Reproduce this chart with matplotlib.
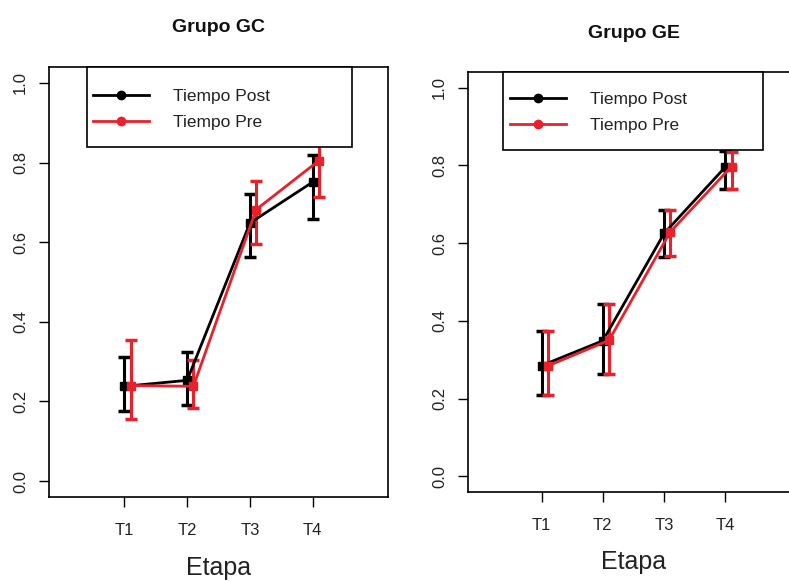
import matplotlib
matplotlib.use("Agg")
from matplotlib import pyplot as plt
from matplotlib.lines import Line2D
from matplotlib.patches import Rectangle

plt.rcParams['font.family'] = ['Liberation Sans', 'DejaVu Sans']

etapas = ["T1", "T2", "T3", "T4"]

# Grupo GC
gc_post = [0.238, 0.253, 0.648, 0.751]
gc_post_lo = [0.176, 0.190, 0.563, 0.659]
gc_post_hi = [0.311, 0.323, 0.722, 0.818]
gc_pre = [0.240, 0.238, 0.682, 0.805]
gc_pre_lo = [0.157, 0.184, 0.595, 0.713]
gc_pre_hi = [0.355, 0.305, 0.753, 0.897]

# Grupo GE
ge_post = [0.285, 0.349, 0.625, 0.796]
ge_post_lo = [0.210, 0.264, 0.565, 0.739]
ge_post_hi = [0.375, 0.444, 0.685, 0.837]
ge_pre = [0.284, 0.350, 0.629, 0.797]
ge_pre_lo = [0.210, 0.264, 0.567, 0.739]
ge_pre_hi = [0.375, 0.444, 0.685, 0.835]

ROJO = "#e8212b"
NEGRO = "#000000"
DODGE = 0.1

fig = plt.figure(figsize=(7.89, 5.82), dpi=100)

#posiciones de los paneles (en pixeles: izquierda, arriba, derecha, abajo)
paneles = [
    dict(px=(49, 67, 388, 497), titulo="Grupo GC", ty=28, ey=568,
         post=(gc_post, gc_post_lo, gc_post_hi), pre=(gc_pre, gc_pre_lo, gc_pre_hi),
         leg=(87, 352, 147), hx=93, hy=96),
    dict(px=(468, 72, 799, 492), titulo="Grupo GE", ty=33, ey=562,
         post=(ge_post, ge_post_lo, ge_post_hi), pre=(ge_pre, ge_pre_lo, ge_pre_hi),
         leg=(503, 763, 150), hx=510, hy=99),
]

W, H = 789, 582
for p in paneles:
    l, t, r, b = p["px"]
    ax = fig.add_axes([l / W, 1 - b / H, (r - l) / W, (b - t) / H])
    x = list(range(1, len(etapas) + 1))

    for (m, lo, hi), col, off in [(p["post"], NEGRO, 0.0), (p["pre"], ROJO, DODGE)]:
        xx = [v + off for v in x]
        err = [[mi - a for mi, a in zip(m, lo)], [c - mi for mi, c in zip(m, hi)]]
        ax.errorbar(xx, m, yerr=err, fmt="none", ecolor=col, elinewidth=2.2,
                    capsize=4.5, capthick=2.5, zorder=2)
        ax.plot(xx, m, color=col, lw=2.0, marker="s", markersize=5.5, zorder=3)

    ax.set_xlim(-0.2, 5.2)
    ax.set_ylim(-0.04, 1.04)
    ax.set_xticks(x)
    ax.set_xticklabels(etapas)
    ax.set_yticks([0.0, 0.2, 0.4, 0.6, 0.8, 1.0])
    ax.set_yticklabels(["0.0", "0.2", "0.4", "0.6", "0.8", "1.0"], rotation=90, va="center")
    ax.tick_params(axis="both", direction="out", length=7, width=1.0,
                   labelsize=12, labelcolor="#222222", pad=8)
    ax.tick_params(axis="x", pad=12)
    for s in ax.spines.values():
        s.set_linewidth(1.2)

    #caja de la leyenda
    x0, x1, yb = p["leg"]
    ax.add_patch(Rectangle(((x0 - l) / (r - l), (b - yb) / (b - t)),
                           (x1 - x0) / (r - l), (yb - t) / (b - t),
                           transform=ax.transAxes, facecolor="white",
                           edgecolor="black", lw=1.2, zorder=5, clip_on=False))
    handles = [Line2D([], [], color=NEGRO, lw=2.0, marker="o", markersize=6),
               Line2D([], [], color=ROJO, lw=2.0, marker="o", markersize=6)]
    leg = ax.legend(handles, ["Tiempo Post", "Tiempo Pre"], loc="upper left",
                    bbox_to_anchor=((p["hx"] - l) / (r - l), (b - p["hy"] + 7) / (b - t)),
                    borderpad=0, borderaxespad=0, frameon=False, fontsize=12.5,
                    handlelength=3.2, handletextpad=1.4, labelspacing=0.62)
    leg.set_zorder(6)
    for txt in leg.get_texts():
        txt.set_color("#222222")

    fig.text((l + r) / 2 / W, 1 - p["ty"] / H, p["titulo"], ha="center", va="center",
             fontsize=14, fontweight="bold", color="#111111")
    fig.text((l + r) / 2 / W, 1 - p["ey"] / H, "Etapa", ha="center", va="center",
             fontsize=18, color="#222222")

plt.savefig("out.png", dpi=100)
